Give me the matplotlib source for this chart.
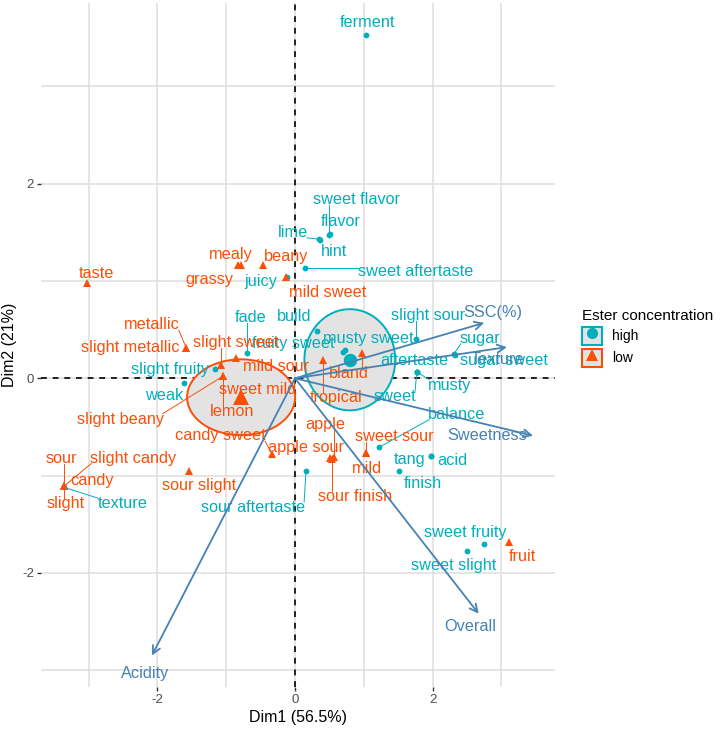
import matplotlib
matplotlib.use('Agg')
import matplotlib.pyplot as plt
import numpy as np
from matplotlib.patches import Ellipse, Patch
from matplotlib.lines import Line2D
from matplotlib.legend_handler import HandlerTuple

plt.rcParams['font.family'] = ['Liberation Sans', 'DejaVu Sans']

TEAL = '#00AFBB'
ORANGE = '#FC4E07'
STEEL = '#4682B4'

# ---------------- data ----------------
high_names = ['ferment', 'sweet flavor', 'flavor', 'lime', 'hint', 'sweet aftertaste',
              'juicy', 'fade', 'build', 'fruity sweet', 'musty sweet', 'slight sour',
              'sugar', 'sugar sweet', 'aftertaste', 'musty', 'sweet', 'balance',
              'tang', 'acid', 'finish', 'sweet fruity', 'sweet slight',
              'sour aftertaste', 'texture', 'weak', 'slight fruity']
high_x = [1.03, 0.49, 0.51, 0.35, 0.36, 0.15, -0.12, -0.70, 0.32, 0.70, 0.73, 1.76,
          2.31, 2.33, 1.77, 1.77, 1.77, 1.22, 1.98, 1.98, 1.51, 2.75, 2.50,
          0.16, -3.36, -1.61, -1.16]
high_y = [3.53, 1.47, 1.48, 1.43, 1.42, 1.13, 1.04, 0.26, 0.49, 0.27, 0.29, 0.40,
          0.25, 0.24, 0.065, 0.065, 0.065, -0.71, -0.80, -0.80, -0.95, -1.70, -1.78,
          -0.95, -1.12, -0.05, 0.10]

low_names = ['taste', 'mealy', 'grassy', 'beany', 'mild sweet', 'metallic',
             'slight metallic', 'slight sweet', 'mild sour', 'sweet mild', 'lemon',
             'slight beany', 'candy sweet', 'apple sour', 'apple', 'sour finish',
             'sour slight', 'sour', 'slight candy', 'candy', 'slight', 'tropical',
             'bland', 'sweet sour', 'mild', 'fruit']
low_x = [-3.02, -0.78, -0.83, -0.47, -0.13, -1.58, -1.58, -1.08, -0.86, -0.80, -1.05,
         -1.05, -0.33, 0.51, 0.57, 0.54, -1.54, -3.36, -3.36, -3.36, -3.36, 0.41,
         0.97, 1.03, 1.03, 3.11]
low_y = [0.98, 1.16, 1.16, 1.16, 1.04, 0.31, 0.31, 0.14, 0.21, -0.18, 0.02,
         0.02, -0.78, -0.82, -0.81, -0.83, -0.95, -1.11, -1.11, -1.11, -1.11, 0.19,
         0.26, -0.77, -0.77, -1.68]

var_names = ['SSC(%)', 'Texture', 'Sweetness', 'Overall', 'Acidity']
var_x = [2.75, 3.08, 3.46, 2.67, -2.08]
var_y = [0.57, 0.32, -0.59, -2.42, -2.85]

group_names = ['high', 'low']
ellipse_rx = [0.66, 0.785]
ellipse_ry = [0.52, 0.39]

# ---------------- label layout (text positions only) ----------------
high_label_pos = {
    'ferment': (1.06, 3.66), 'sweet flavor': (0.90, 1.84), 'flavor': (0.67, 1.61),
    'lime': (-0.03, 1.50), 'hint': (0.57, 1.30), 'sweet aftertaste': (1.76, 1.10),
    'juicy': (-0.49, 0.99), 'fade': (-0.65, 0.62), 'build': (-0.01, 0.63),
    'fruity sweet': (-0.03, 0.36), 'musty sweet': (1.06, 0.41), 'slight sour': (1.93, 0.65),
    'sugar': (2.69, 0.41), 'sugar sweet': (3.04, 0.18), 'aftertaste': (1.73, 0.18),
    'musty': (2.25, -0.07), 'sweet': (1.45, -0.19), 'balance': (2.35, -0.37),
    'tang': (1.67, -0.83), 'acid': (2.28, -0.84), 'finish': (1.86, -1.08),
    'sweet fruity': (2.47, -1.58), 'sweet slight': (2.31, -1.92),
    'sour aftertaste': (-0.61, -1.33), 'texture': (-2.51, -1.29),
    'weak': (-1.90, -0.18), 'slight fruity': (-1.82, 0.09)}
low_label_pos = {
    'taste': (-2.89, 1.08), 'mealy': (-0.93, 1.27), 'grassy': (-1.25, 1.02),
    'beany': (-0.13, 1.25), 'mild sweet': (0.48, 0.88), 'metallic': (-2.08, 0.55),
    'slight metallic': (-2.40, 0.32), 'slight sweet': (-0.87, 0.37),
    'mild sour': (-0.28, 0.12), 'sweet mild': (-0.54, -0.12), 'lemon': (-0.92, -0.34),
    'slight beany': (-2.54, -0.42), 'candy sweet': (-1.08, -0.59),
    'apple sour': (0.16, -0.71), 'apple': (0.44, -0.47), 'sour finish': (0.87, -1.21),
    'sour slight': (-1.40, -1.10), 'sour': (-3.39, -0.82), 'slight candy': (-2.35, -0.82),
    'candy': (-2.95, -1.05), 'slight': (-3.33, -1.29), 'tropical': (0.60, -0.20),
    'bland': (0.78, 0.05), 'sweet sour': (1.44, -0.60), 'mild': (1.05, -0.93),
    'fruit': (3.30, -1.83)}
var_label_pos = {'SSC(%)': (2.88, 0.68), 'Texture': (2.94, 0.19),
                 'Sweetness': (2.79, -0.59), 'Overall': (2.54, -2.55),
                 'Acidity': (-2.18, -3.03)}

# ---------------- figure ----------------
W, H = 720, 730
fig = plt.figure(figsize=(W / 100, H / 100), dpi=100)
ax = fig.add_axes([41 / W, 1 - 687 / H, 514 / W, 684 / H])
ax.set_xlim(-3.692, 3.779)
ax.set_ylim(-3.173, 3.857)

for s in ax.spines.values():
    s.set_visible(False)
ax.set_xticks([-2, 0, 2])
ax.set_yticks([-2, 0, 2])
ax.set_xticks([-3, -1, 1, 3], minor=True)
ax.set_yticks([-3, -1, 1, 3], minor=True)
ax.set_xticklabels(['-2', '0', '2'])
ax.set_yticklabels(['-2', '0', '2'])
ax.grid(True, which='both', color='#DEDEDE', lw=1.1, zorder=0)
ax.set_axisbelow(True)
ax.tick_params(which='major', length=3, width=1.0, color='#333333',
               labelsize=9.5, labelcolor='#4D4D4D', pad=2)
ax.tick_params(which='minor', length=0)
ax.set_xlabel('Dim1 (56.5%)', fontsize=11.5, labelpad=3)
ax.set_ylabel('Dim2 (21%)', fontsize=11.5, labelpad=4)

ax.axhline(0, color='black', lw=1.2, ls=(0, (3.5, 3.5)), zorder=1)
ax.axvline(0, color='black', lw=1.2, ls=(0, (3.5, 3.5)), zorder=1)

groups = [(high_names, high_x, high_y, TEAL, 'o', 4.2, high_label_pos),
          (low_names, low_x, low_y, ORANGE, '^', 5.2, low_label_pos)]

# ellipses and centroids
for gi, (names, xs, ys, col, mk, ms, lp) in enumerate(groups):
    cx, cy = np.mean(xs), np.mean(ys)
    e = Ellipse((cx, cy), 2 * ellipse_rx[gi], 2 * ellipse_ry[gi],
                facecolor='#E3E3E3', edgecolor=col, lw=1.4, zorder=2)
    ax.add_patch(e)

texts = []
for gi, (names, xs, ys, col, mk, ms, lp) in enumerate(groups):
    ax.plot(xs, ys, ls='', marker=mk, color=col, ms=ms, mew=0, zorder=3)
    cx, cy = np.mean(xs), np.mean(ys)
    ax.plot([cx], [cy], ls='', marker=mk, color=col, ms=ms * 2.3, mew=0, zorder=3)
    for n, x, y in zip(names, xs, ys):
        lx, ly = lp[n]
        t = ax.text(lx, ly, n, color=col, fontsize=11.7, ha='center', va='center',
                    zorder=4)
        texts.append((t, x, y, col))

# variable arrows
for n, vx, vy in zip(var_names, var_x, var_y):
    ax.annotate('', xy=(vx, vy), xytext=(0, 0),
                arrowprops=dict(arrowstyle='->', color=STEEL, lw=1.3,
                                shrinkA=0, shrinkB=0, mutation_scale=14),
                zorder=5)
    lx, ly = var_label_pos[n]
    ax.text(lx, ly, n, color=STEEL, fontsize=11.7, ha='center', va='center', zorder=5)

# repel-like segments from point to label box
fig.canvas.draw()
r = fig.canvas.get_renderer()
inv = ax.transData.inverted()
for t, x, y, col in texts:
    bb = t.get_window_extent(r)
    px, py = ax.transData.transform((x, y))
    qx = min(max(px, bb.x0 + 1), bb.x1 - 1)
    qy = min(max(py, bb.y0 + 2), bb.y1 - 2)
    d = np.hypot(px - qx, py - qy)
    if d > 11:
        (x0, y0), (x1, y1) = inv.transform([(px, py), (qx, qy)])
        ax.plot([x0, x1], [y0, y1], color=col, lw=0.7, zorder=3)

# legend
handles = [(Patch(facecolor='#E3E3E3', edgecolor=TEAL, lw=1.5),
            Line2D([], [], ls='', marker='o', color=TEAL, ms=8, mew=0)),
           (Patch(facecolor='#E3E3E3', edgecolor=ORANGE, lw=1.5),
            Line2D([], [], ls='', marker='^', color=ORANGE, ms=9, mew=0))]
leg = fig.legend(handles, group_names, title='Ester concentration',
                 handler_map={tuple: HandlerTuple(ndivide=1)},
                 loc='upper left', bbox_to_anchor=(576 / W, 1 - 303 / H),
                 frameon=False, fontsize=10, title_fontsize=11,
                 handlelength=1.5, handleheight=1.6, handletextpad=0.7,
                 labelspacing=0.3, borderaxespad=0)
leg._legend_box.align = 'left'

fig.savefig('out.png', dpi=100)
